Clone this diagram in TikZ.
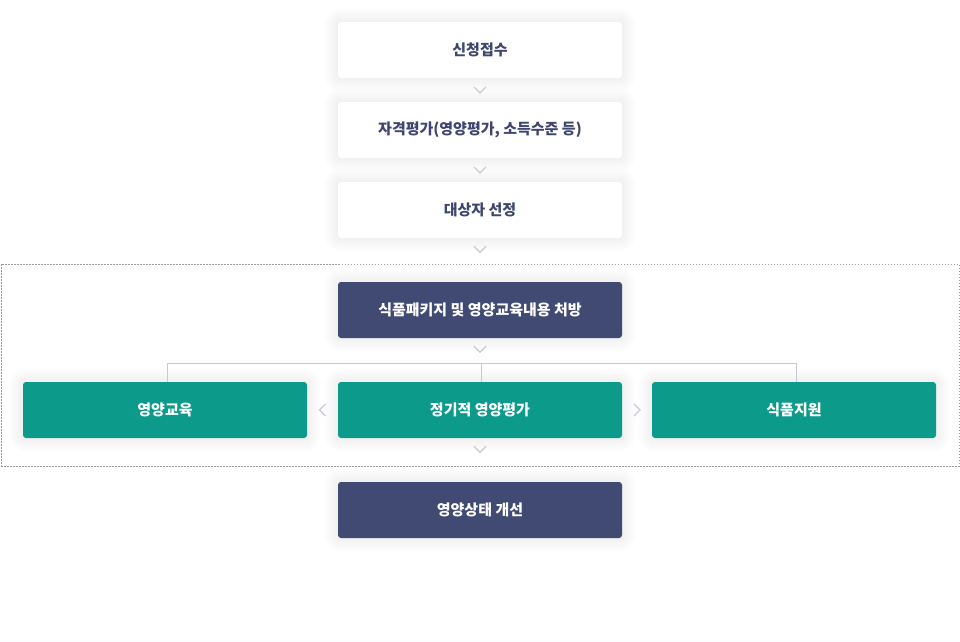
\documentclass[tikz,border=0pt]{standalone}
\usepackage{fontspec}
\newfontfamily\kr{Noto Sans CJK KR}
\usetikzlibrary{backgrounds,calc}
\definecolor{navy}{HTML}{414A73}
\definecolor{navytext}{HTML}{3E4670}
\definecolor{teal}{HTML}{0C9B8B}
\definecolor{chev}{HTML}{C8CBD9}
\definecolor{lineg}{HTML}{C5C8D8}
\definecolor{dashg}{HTML}{9C9C9C}
\tikzset{
  base/.style={minimum width=284pt, minimum height=56pt, rounded corners=3pt, inner sep=0pt,
    font=\kr\fontsize{15}{18}\selectfont\bfseries},
  whitebox/.style={base, fill=white, text=navytext},
  navybox/.style={base, fill=navy, text=white},
  tealbox/.style={base, fill=teal, text=white},
  chevron/.style={draw=chev, line width=1.3pt},
  conn/.style={draw=lineg, line width=0.9pt},
}
\begin{document}
\begin{tikzpicture}[x=1pt,y=-1pt]
\useasboundingbox (0,0) rectangle (960,641);
\node[draw=dashg, dash pattern=on 1.5pt off 1.5pt, line width=0.8pt, minimum width=958pt, minimum height=202pt, inner sep=0pt] (frame) at (480,365) {};
\node[whitebox] (s1) at (480,50) {신청접수};
\node[whitebox] (s2) at (480,130) {자격평가(영양평가, 소득수준 등)};
\node[whitebox] (s3) at (480,210) {대상자 선정};
\node[navybox] (s4) at (480,310) {식품패키지 및 영양교육내용 처방};
\node[tealbox] (edu) at (165,410) {영양교육};
\node[tealbox] (mid) at (480,410) {정기적 영양평가};
\node[tealbox] (sup) at (794,410) {식품지원};
\node[navybox] (s5) at (480,510) {영양상태 개선};
\begin{scope}[on background layer]
\fill[white] (0,0) rectangle (960,641);
\foreach \n in {s1,s2,s3,s4,edu,mid,sup,s5} {
  \foreach \i in {1,...,14} {
    \fill[black, opacity=0.0026, rounded corners={(3+\i)*1pt}]
      ([shift={(-\i pt,-\i pt)}]\n.south west) rectangle ([shift={(\i pt,\i pt)}]\n.north east);
  }
}
\end{scope}
% tree connectors
\draw[conn] ([xshift=2pt]edu.north) -- ++(0,-18) -| ([xshift=2pt]sup.north);
\draw[conn] ([xshift=1pt]mid.north) -- ++(0,-18);
% chevrons
\foreach \a/\b in {s1/s2, s2/s3} {
  \path ($(\a.south)!0.5!(\b.north)$) coordinate (c);
  \draw[chevron] ($(c)+(-6,-3)$) -- ($(c)+(0,3)$) -- ($(c)+(6,-3)$);
}
\foreach \a in {s3,s4,mid} {
  \path (\a.south) ++(0,11) coordinate (c);
  \draw[chevron] ($(c)+(-6,-3)$) -- ($(c)+(0,3)$) -- ($(c)+(6,-3)$);
}
\path ($(edu.east)!0.5!(mid.west)$) coordinate (c);
\draw[chevron] ($(c)+(3,-6)$) -- ($(c)+(-3,0)$) -- ($(c)+(3,6)$);
\path ($(mid.east)!0.5!(sup.west)$) coordinate (c);
\draw[chevron] ($(c)+(-3,-6)$) -- ($(c)+(3,0)$) -- ($(c)+(-3,6)$);
\end{tikzpicture}
\end{document}
